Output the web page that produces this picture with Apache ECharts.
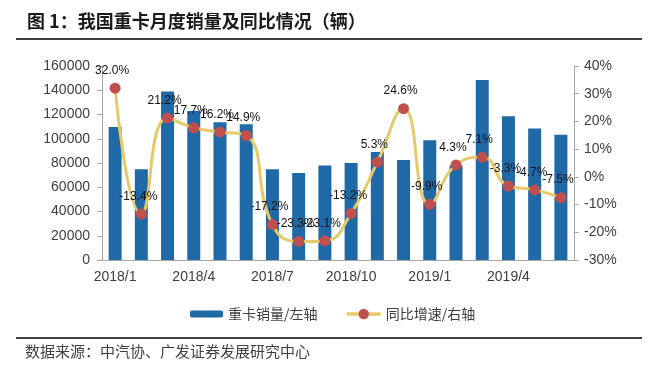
<!DOCTYPE html>
<html>
<head>
<meta charset="utf-8">
<script src="https://cdn.jsdelivr.net/npm/echarts@6/dist/echarts.min.js"></script>
<style>
html,body{margin:0;padding:0;background:#fff;}
#c{width:657px;height:369px;}
</style>
</head>
<body>
<div id="c"></div>
<script>
const categories = ['2018/1','2018/2','2018/3','2018/4','2018/5','2018/6','2018/7','2018/8','2018/9','2018/10','2018/11','2018/12','2019/1','2019/2','2019/3','2019/4','2019/5','2019/6'];
const sales = [109700, 74800, 138900, 122900, 113600, 111900, 74800, 71800, 77900, 80000, 89000, 82500, 98700, 77900, 148500, 118500, 108400, 103400];
const yoy = [32.0, -13.4, 21.2, 17.7, 16.2, 14.9, -17.2, -23.3, -23.1, -13.2, 5.3, 24.6, -9.9, 4.3, 7.1, -3.3, -4.7, -7.5];
const leftTicks = {min: 0, max: 160000, interval: 20000};
const rightTicks = {min: -30, max: 40, interval: 10};
const titleText = '图 1：我国重卡月度销量及同比情况（辆）';
const sourceText = '数据来源：中汽协、广发证券发展研究中心';
const seriesNames = ['重卡销量/左轴', '同比增速/右轴'];

const chart = echarts.init(document.getElementById('c'), null, {renderer: 'canvas'});
const axisColor = '#A6A6A6';
const labelColor = '#404040';
const cjk = '"Noto Sans CJK SC", sans-serif';
const latin = '"Liberation Sans", Arial, sans-serif';
const legendText = {fontFamily: cjk, fontSize: 14, color: labelColor};

chart.setOption({
  animation: false,
  backgroundColor: '#fff',
  grid: {left: 102, right: 83, top: 66, bottom: 109, containLabel: false},
  graphic: [
    {type: 'text', left: 27, top: 12, style: {text: titleText, font: 'bold 18px ' + cjk, fill: '#1a1a1a'}},
    {type: 'line', shape: {x1: 16, y1: 39, x2: 642, y2: 39}, style: {stroke: '#000', lineWidth: 1.5}},
    {type: 'line', shape: {x1: 16, y1: 338, x2: 642, y2: 338}, style: {stroke: '#000', lineWidth: 1.5}},
    {type: 'text', left: 25, top: 344, style: {text: sourceText, font: '15px ' + cjk, fill: labelColor}}
  ],
  legend: [
    {
      left: 185, top: 302, itemWidth: 33, itemHeight: 7,
      textStyle: legendText, data: [seriesNames[0]]
    },
    {
      left: 340, top: 302, itemWidth: 34, itemHeight: 13,
      lineStyle: {width: 3.5},
      textStyle: legendText, data: [seriesNames[1]]
    }
  ],
  xAxis: {
    type: 'category',
    data: categories,
    boundaryGap: true,
    axisLine: {lineStyle: {color: axisColor, width: 1}},
    axisTick: {interval: 2, length: 5, lineStyle: {color: axisColor}},
    axisLabel: {interval: 2, margin: 10, fontFamily: latin, fontSize: 14, color: labelColor}
  },
  yAxis: [
    {
      type: 'value', min: leftTicks.min, max: leftTicks.max, interval: leftTicks.interval,
      axisLine: {show: true, lineStyle: {color: axisColor}},
      axisTick: {show: true, length: 5, lineStyle: {color: axisColor}},
      splitLine: {show: false},
      axisLabel: {fontFamily: latin, fontSize: 14, color: labelColor, margin: 12, formatter: v => String(v)}
    },
    {
      type: 'value', min: rightTicks.min, max: rightTicks.max, interval: rightTicks.interval,
      position: 'right',
      axisLine: {show: true, lineStyle: {color: axisColor}},
      axisTick: {show: true, length: 5, lineStyle: {color: axisColor}},
      splitLine: {show: false},
      axisLabel: {fontFamily: latin, fontSize: 14, color: labelColor, margin: 10, formatter: '{value}%'}
    }
  ],
  series: [
    {
      name: seriesNames[0], type: 'bar', yAxisIndex: 0, data: sales,
      barWidth: 13, itemStyle: {color: '#1F69A6'}
    },
    {
      name: seriesNames[1], type: 'line', yAxisIndex: 1, data: yoy,
      smooth: true, symbol: 'circle', symbolSize: 11,
      itemStyle: {color: '#C0504D'},
      lineStyle: {color: '#E6CA6A', width: 3},
      label: {
        show: true, position: 'top', distance: 6, offset: [-3, 0],
        fontFamily: latin, fontSize: 12, color: '#111',
        formatter: p => p.value.toFixed(1) + '%'
      },
      z: 3
    }
  ]
});
</script>
</body>
</html>
